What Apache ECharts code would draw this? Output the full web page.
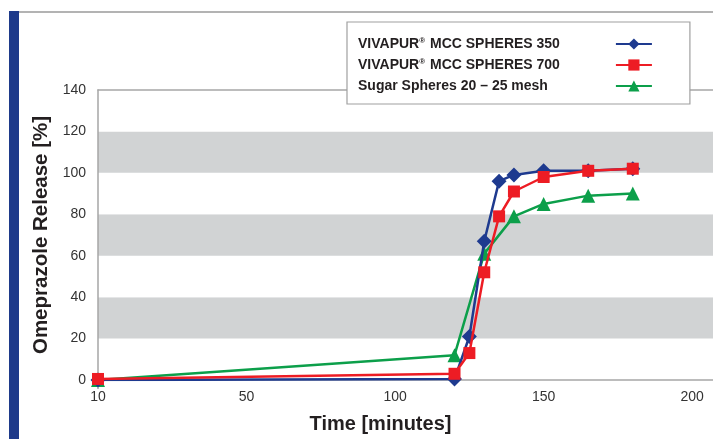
<!DOCTYPE html>
<html>
<head>
<meta charset="utf-8">
<script src="https://cdn.jsdelivr.net/npm/echarts@6/dist/echarts.min.js"></script>
<style>
html,body{margin:0;padding:0;background:#fff;}
#c{width:713px;height:439px;}
</style>
</head>
<body>
<div id="c"></div>
<script>
// Data
const timesMcc = [0, 120, 125, 130, 135, 140, 150, 165, 180];
const mcc350 = [0, 0.5, 21, 67, 96, 99, 101, 101, 102];
const mcc700 = [0.5, 3, 13, 52, 79, 91, 98, 101, 102];
const timesSugar = [0, 120, 130, 140, 150, 165, 180];
const sugar = [0, 12, 61, 79, 85, 89, 90];
const seriesNames = ['VIVAPUR® MCC SPHERES 350', 'VIVAPUR® MCC SPHERES 700', 'Sugar Spheres 20 – 25 mesh'];
const xTickValues = [0, 50, 100, 150, 200];
const xTickLabels = ['10', '50', '100', '150', '200'];

const pair = (xs, ys) => xs.map((x, i) => [x, ys[i]]);
const FONT = '"Liberation Sans", Arial, sans-serif';

// legend text: pad each entry to a fixed width so icons sit in a column on the right
const mctx = document.createElement('canvas').getContext('2d');
function textW(s, size) { mctx.font = 'bold ' + size + 'px ' + FONT; return mctx.measureText(s).width; }
const LEG_TEXT_W = 253;
const legendRich = {
  t: {fontFamily: FONT, fontWeight: 'bold', fontSize: 14, color: '#231f20'},
  sup: {fontSize: 8, fontWeight: 'bold', color: '#231f20', verticalAlign: 'top', padding: [0, 1, 6, 0], fontFamily: FONT}
};
const legendText = {};
seriesNames.forEach((n, i) => {
  const parts = n.split('®');
  let used, s;
  if (parts.length > 1) {
    used = textW(parts[0], 14) + textW('®', 8) + 1 + textW(parts[1], 14);
    s = '{t|' + parts[0] + '}{sup|®}{t|' + parts[1] + '}';
  } else {
    used = textW(n, 14);
    s = '{t|' + n + '}';
  }
  legendRich['sp' + i] = {fontSize: 14, width: Math.max(1, Math.round(LEG_TEXT_W - used))};
  legendText[n] = s + '{sp' + i + '| }';
});

const chart = echarts.init(document.getElementById('c'), null, {renderer: 'canvas'});
chart.setOption({
  animation: false,
  backgroundColor: '#ffffff',
  graphic: [
    {type: 'rect', shape: {x: 9, y: 11, width: 10, height: 440}, style: {fill: '#1e3a8a'}, z: 100},
    {type: 'rect', shape: {x: 19, y: 11, width: 700, height: 2}, style: {fill: '#b3b3b3'}, z: 100}
  ],
  grid: {left: 98, top: 90, right: 0, bottom: 58, containLabel: false},
  legend: {
    orient: 'vertical',
    left: 347, top: 22,
    padding: [15, 37, 11, 11],
    itemGap: 7,
    itemWidth: 36, itemHeight: 14,
    align: 'right',
    backgroundColor: '#ffffff',
    borderColor: '#a0a0a0', borderWidth: 1.2,
    data: seriesNames,
    formatter: n => legendText[n],
    textStyle: {fontFamily: FONT, fontWeight: 'bold', fontSize: 14, color: '#231f20', rich: legendRich},
    z: 10
  },
  xAxis: [{
    type: 'value', min: 0, max: 207,
    axisLine: {show: true, lineStyle: {color: '#a6a6a6', width: 1.5}},
    axisTick: {show: true, customValues: [0], length: 9, lineStyle: {color: '#a6a6a6', width: 1.5}},
    splitLine: {show: false},
    axisLabel: {
      customValues: xTickValues,
      formatter: v => xTickLabels[xTickValues.indexOf(v)] ?? '',
      color: '#333', fontSize: 14, fontFamily: FONT, margin: 10
    },
    name: 'Time [minutes]', nameLocation: 'middle', nameGap: 34,
    nameTextStyle: {fontFamily: FONT, fontWeight: 'bold', fontSize: 20, color: '#231f20', padding: [0, 50, 0, 0]}
  }, {
    type: 'value', min: 0, max: 207, position: 'top',
    axisLine: {show: true, lineStyle: {color: '#a6a6a6', width: 1.5}},
    axisTick: {show: false}, axisLabel: {show: false}, splitLine: {show: false}
  }],
  yAxis: {
    type: 'value', min: 0, max: 140, interval: 20,
    axisLine: {show: true, lineStyle: {color: '#a6a6a6', width: 1.5}},
    axisTick: {show: false},
    splitLine: {show: false},
    splitArea: {show: true, areaStyle: {color: ['#ffffff', '#d1d3d4']}},
    axisLabel: {color: '#333', fontSize: 14, fontFamily: FONT, margin: 12},
    name: 'Omeprazole Release [%]', nameLocation: 'middle', nameGap: 46,
    nameTextStyle: {fontFamily: FONT, fontWeight: 'bold', fontSize: 20.5, color: '#231f20'}
  },
  series: [
    {
      name: seriesNames[0], type: 'line', data: pair(timesMcc, mcc350),
      symbol: 'diamond', symbolSize: 15, z: 3,
      lineStyle: {color: '#1e3a8f', width: 2.5}, itemStyle: {color: '#1e3a8f'}
    },
    {
      name: seriesNames[1], type: 'line', data: pair(timesMcc, mcc700),
      symbol: 'rect', symbolSize: 12, z: 4,
      lineStyle: {color: '#ed1c24', width: 2.5}, itemStyle: {color: '#ed1c24'}
    },
    {
      name: seriesNames[2], type: 'line', data: pair(timesSugar, sugar),
      symbol: 'triangle', symbolSize: 14, z: 2,
      lineStyle: {color: '#0c9f4a', width: 2.5}, itemStyle: {color: '#0c9f4a'}
    }
  ]
});
</script>
</body>
</html>
